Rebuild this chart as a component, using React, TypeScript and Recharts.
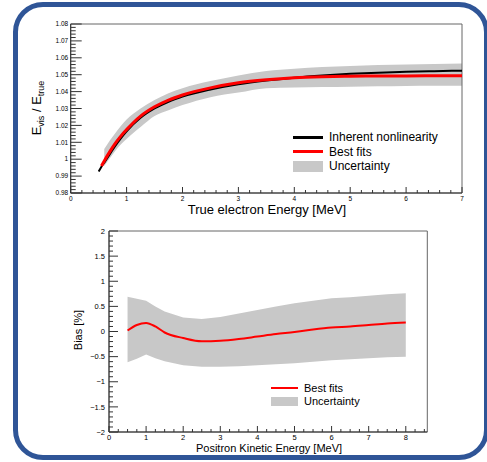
import React from 'react';
import { ComposedChart, Line, Area, XAxis, YAxis, ReferenceArea } from 'recharts';

// ---- top panel: E_vis / E_true vs true electron energy ----
const energyTop = [0.5, 0.55, 0.6, 0.7, 0.8, 0.9, 1, 1.25, 1.5, 1.75, 2, 2.5, 3, 3.5, 4, 4.5, 5, 5.5, 6, 6.5, 7];
const inherent = [0.9927, 0.9955, 0.998, 1.003, 1.008, 1.0125, 1.0165, 1.0245, 1.03, 1.034, 1.037, 1.0412, 1.0443, 1.0465, 1.0482, 1.0495, 1.0505, 1.0512, 1.0517, 1.0521, 1.0524];
const bestFitTop = [null, 0.996, 0.999, 1.0045, 1.0095, 1.0138, 1.0175, 1.0255, 1.031, 1.035, 1.038, 1.0422, 1.0452, 1.047, 1.0482, 1.0488, 1.0491, 1.0492, 1.0493, 1.0494, 1.0494];
const bandTopLow = [null, null, 0.996, 1.0005, 1.005, 1.0088, 1.012, 1.019, 1.0255, 1.029, 1.032, 1.0367, 1.0394, 1.042, 1.0425, 1.0427, 1.0429, 1.0431, 1.0433, 1.0434, 1.0435];
const bandTopHigh = [null, null, 1.006, 1.011, 1.0155, 1.0198, 1.0235, 1.03, 1.035, 1.039, 1.042, 1.0462, 1.0495, 1.0522, 1.0535, 1.0545, 1.0552, 1.0557, 1.0561, 1.0564, 1.0567];
const topYLabels = ['0.98', '0.99', '1', '1.01', '1.02', '1.03', '1.04', '1.05', '1.06', '1.07', '1.08'];
const topXLabels = ['0', '1', '2', '3', '4', '5', '6', '7'];

// ---- bottom panel: bias vs positron kinetic energy ----
const energyBottom = [0.5, 0.75, 1, 1.25, 1.5, 2, 2.5, 3, 3.5, 4, 4.5, 5, 5.5, 6, 6.5, 7, 7.5, 8];
const biasFit = [0.02, 0.13, 0.17, 0.1, -0.02, -0.13, -0.195, -0.185, -0.15, -0.1, -0.05, -0.01, 0.04, 0.08, 0.1, 0.13, 0.16, 0.18];
const biasLow = [-0.61, -0.54, -0.46, -0.53, -0.59, -0.67, -0.7, -0.7, -0.69, -0.67, -0.65, -0.63, -0.6, -0.57, -0.55, -0.53, -0.51, -0.5];
const biasHigh = [0.69, 0.65, 0.61, 0.5, 0.4, 0.28, 0.25, 0.29, 0.36, 0.43, 0.5, 0.56, 0.61, 0.66, 0.68, 0.71, 0.74, 0.76];
const bottomYLabels = ['−2', '−1.5', '−1', '−0.5', '0', '0.5', '1', '1.5', '2'];
const bottomXLabels = ['0', '1', '2', '3', '4', '5', '6', '7', '8'];

const FONT = '"Liberation Sans", Arial, Helvetica, sans-serif';
const BAND = '#c8c8c8';
const AXIS = '#333';

const topRows = energyTop.map((x, i) => ({
  x,
  inherent: inherent[i],
  fit: bestFitTop[i],
  band: bandTopLow[i] == null ? null : [bandTopLow[i], bandTopHigh[i]],
}));

const bottomRows = energyBottom.map((x, i) => ({
  x,
  fit: biasFit[i],
  band: [biasLow[i], biasHigh[i]],
}));

const steps = (a: number, b: number, step: number) => {
  const out: number[] = [];
  const n = Math.round((b - a) / step);
  for (let i = 0; i <= n; i++) out.push(Math.round((a + i * step) * 1e6) / 1e6);
  return out;
};
const toNum = (s: string) => parseFloat(s.replace('−', '-'));
const findLabel = (labels: string[], v: number) => labels.find((l) => Math.abs(toNum(l) - v) < 1e-6);

// ROOT-style ticks: drawn inward, labels only on the major ones
const yTick = (labels: string[], major: number, minor: number, fs: number, gap: number) => (p: any) => {
  const lab = findLabel(labels, p.payload.value);
  return (
    <g>
      <line x1={p.x} x2={p.x + (lab ? major : minor)} y1={p.y} y2={p.y} stroke={AXIS} strokeWidth={1} />
      {lab && (
        <text x={p.x - gap} y={p.y} dy="0.35em" textAnchor="end" fontSize={fs} fontFamily={FONT} fill="#000">
          {lab}
        </text>
      )}
    </g>
  );
};

const xTick = (labels: string[], major: number, minor: number, fs: number, gap: number) => (p: any) => {
  const lab = findLabel(labels, p.payload.value);
  return (
    <g>
      <line x1={p.x} x2={p.x} y1={p.y} y2={p.y - (lab ? major : minor)} stroke={AXIS} strokeWidth={1} />
      {lab && (
        <text x={p.x} y={p.y + gap} dy="0.75em" textAnchor="middle" fontSize={fs} fontFamily={FONT} fill="#000">
          {lab}
        </text>
      )}
    </g>
  );
};

const txt = (left: number, top: number, size: number, children: React.ReactNode) => (
  <div
    style={{
      position: 'absolute',
      left,
      top,
      transform: 'translateY(-50%)',
      fontSize: size,
      fontFamily: FONT,
      whiteSpace: 'nowrap',
      lineHeight: 1,
      color: '#000',
    }}
  >
    {children}
  </div>
);

const box = (left: number, top: number, w: number, h: number, bg: string) => (
  <div style={{ position: 'absolute', left, top, width: w, height: h, background: bg }} />
);

export default function App() {
  return (
    <div style={{ position: 'absolute', left: 0, top: 0, width: 487, height: 462, background: '#fff', overflow: 'hidden' }}>
      <div
        style={{
          position: 'absolute',
          left: 13,
          top: 2,
          width: 476,
          height: 458,
          boxSizing: 'border-box',
          border: '5px solid #2f5597',
          borderRadius: 30,
          background: '#fff',
        }}
      />

      {/* top chart */}
      <div style={{ position: 'absolute', left: 0, top: 0 }}>
        <ComposedChart width={487} height={230} data={topRows} margin={{ top: 24, right: 25, bottom: 0, left: 20.7 }}>
          <XAxis
            dataKey="x"
            type="number"
            domain={[0, 7]}
            allowDataOverflow
            ticks={steps(0, 7, 0.2)}
            interval={0}
            height={37}
            tickSize={0}
            tickMargin={0}
            tickLine={false}
            axisLine={{ stroke: AXIS }}
            tick={xTick(topXLabels, 6, 3, 6.5, 3)}
          />
          <YAxis
            type="number"
            domain={[0.98, 1.08]}
            allowDataOverflow
            ticks={steps(0.98, 1.08, 0.002)}
            interval={0}
            width={50}
            tickSize={0}
            tickMargin={0}
            tickLine={false}
            axisLine={{ stroke: AXIS }}
            tick={yTick(topYLabels, 11, 5, 6.5, 2.5)}
          />
          <Area dataKey="band" type="monotone" stroke="none" fill={BAND} fillOpacity={1} isAnimationActive={false} />
          <Line dataKey="inherent" type="monotone" stroke="#000" strokeWidth={2} dot={false} isAnimationActive={false} />
          <Line dataKey="fit" type="monotone" stroke="#ff0000" strokeWidth={3} dot={false} isAnimationActive={false} />
          <ReferenceArea x1={0} x2={7} y1={0.98} y2={1.08} fill="none" stroke="#666" strokeWidth={1} ifOverflow="visible" />
        </ComposedChart>
      </div>

      {/* bottom chart */}
      <div style={{ position: 'absolute', left: 0, top: 220 }}>
        <ComposedChart width={487} height={242} data={bottomRows} margin={{ top: 11, right: 59.7, bottom: 0, left: 59 }}>
          <XAxis
            dataKey="x"
            type="number"
            domain={[0, 8.58]}
            allowDataOverflow
            ticks={steps(0, 8.5, 0.25)}
            interval={0}
            height={30}
            tickSize={0}
            tickMargin={0}
            tickLine={false}
            axisLine={{ stroke: AXIS }}
            tick={xTick(bottomXLabels, 6, 3, 7.5, 2.5)}
          />
          <YAxis
            type="number"
            domain={[-2, 2]}
            allowDataOverflow
            ticks={steps(-2, 2, 0.1)}
            interval={0}
            width={50}
            tickSize={0}
            tickMargin={0}
            tickLine={false}
            axisLine={{ stroke: AXIS }}
            tick={yTick(bottomYLabels, 9, 4, 7.5, 4)}
          />
          <Area dataKey="band" type="linear" stroke="none" fill={BAND} fillOpacity={1} isAnimationActive={false} />
          <Line dataKey="fit" type="monotone" stroke="#ff0000" strokeWidth={2} dot={false} isAnimationActive={false} />
          <ReferenceArea x1={0} x2={8.58} y1={-2} y2={2} fill="none" stroke="#666" strokeWidth={1} ifOverflow="visible" />
        </ComposedChart>
      </div>

      {/* axis titles */}
      <div
        style={{
          position: 'absolute',
          left: 38,
          top: 108,
          transform: 'translate(-50%, -50%) rotate(-90deg)',
          fontSize: 13,
          fontFamily: FONT,
          whiteSpace: 'nowrap',
          lineHeight: 1,
        }}
      >
        E<sub style={{ fontSize: 9 }}>vis</sub> / E<sub style={{ fontSize: 9 }}>true</sub>
      </div>
      <div
        style={{
          position: 'absolute',
          left: 78,
          top: 330,
          transform: 'translate(-50%, -50%) rotate(-90deg)',
          fontSize: 11,
          fontFamily: FONT,
          whiteSpace: 'nowrap',
          lineHeight: 1,
        }}
      >
        Bias [%]
      </div>
      <div style={{ position: 'absolute', left: 267, top: 209, transform: 'translate(-50%, -50%)', fontSize: 13, fontFamily: FONT, whiteSpace: 'nowrap', lineHeight: 1 }}>
        True electron Energy [MeV]
      </div>
      <div style={{ position: 'absolute', left: 269, top: 448, transform: 'translate(-50%, -50%)', fontSize: 11, fontFamily: FONT, whiteSpace: 'nowrap', lineHeight: 1 }}>
        Positron Kinetic Energy [MeV]
      </div>

      {/* legends */}
      {box(293, 136, 30, 2.5, '#000')}
      {txt(329, 137, 12, 'Inherent nonlinearity')}
      {box(293, 150, 30, 3, '#ff0000')}
      {txt(329, 152, 12, 'Best fits')}
      {box(293, 161, 30, 11, BAND)}
      {txt(329, 166, 12, 'Uncertainty')}

      {box(271, 387, 27, 2, '#ff0000')}
      {txt(304, 388, 11, 'Best fits')}
      {box(271, 397, 27, 9, BAND)}
      {txt(304, 401, 11, 'Uncertainty')}
    </div>
  );
}
